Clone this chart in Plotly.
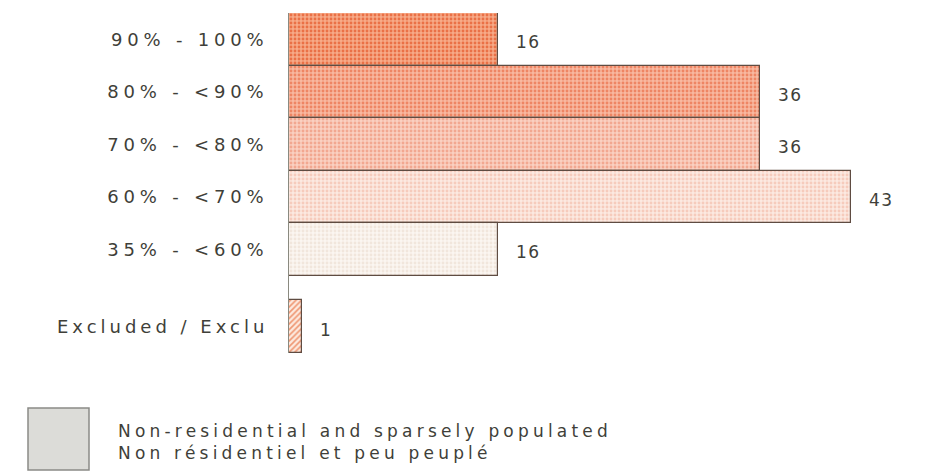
import plotly.graph_objects as go

# Share of households by coverage class
categories = ["90% - 100%", "80% - <90%", "70% - <80%", "60% - <70%", "35% - <60%", "Excluded / Exclu"]
counts = [16, 36, 36, 43, 16, 1]

legend_lines = ["Non-residential and sparsely populated", "Non résidentiel et peu peuplé"]

# fill colours per class (background, dot/hatch colour, pattern shape)
base_colors = ["#f7aa88", "#f8b8a0", "#fad0c1", "#fce9e1", "#fbf6f1", "#fdeadf"]
dot_colors = ["#ea7046", "#ee8563", "#f2a790", "#f6cbbc", "#f1e6dc", "#ef9672"]
shapes = [".", ".", ".", ".", ".", "/"]

W, H = 928, 474
L, R, T, B = 289, 0, 13, 121
TEXT = "#3f3f39"
FONT = "DejaVu Sans"

# main classes stacked edge to edge, the excluded class set a little apart
n_main = len(categories) - 1
y_pos = list(range(n_main)) + [n_main + 0.47]


def spaced(s, ls):
    return f'<span style="letter-spacing:{ls}px">{s}</span>'


fig = go.Figure()
# one trace per class so each bar gets its own pattern colours
for cat, v, y, bg, fg, shp in zip(categories, counts, y_pos, base_colors, dot_colors, shapes):
    fig.add_trace(go.Bar(
        x=[v],
        y=[y],
        name=cat,
        orientation="h",
        width=1.0,
        marker=dict(
            color=bg,
            line=dict(color="#5f4c42", width=1.2),
            pattern=dict(shape=shp, fillmode="overlay", fgcolor=fg,
                         fgopacity=1, size=4, solidity=0.4),
        ),
        hoverinfo="skip",
        showlegend=False,
    ))

# value labels to the right of each bar
for v, y in zip(counts, y_pos):
    fig.add_annotation(
        x=v, y=y, xref="x", yref="y", text=spaced(str(v), 1.5),
        showarrow=False, xanchor="left", xshift=16, yshift=-3,
        font=dict(family=FONT, size=17, color=TEXT),
    )

x_max = (W - L - R) / 13.08
plot_h = H - T - B


def px_x(p):
    return (p - L) / (W - L - R)


def px_y(p):
    return (H - B - p) / plot_h


# legend swatch and its text
fig.add_shape(type="rect", xref="paper", yref="paper",
              x0=px_x(28), x1=px_x(89), y0=px_y(470), y1=px_y(408),
              fillcolor="#dcdcd8", line=dict(color="#8a8a86", width=1.5))
fig.add_annotation(
    xref="paper", yref="paper", x=px_x(116), y=px_y(442),
    text="<br>".join(spaced(s, 4.2) for s in legend_lines),
    showarrow=False, xanchor="left", yanchor="middle", align="left",
    font=dict(family=FONT, size=17, color=TEXT),
)

tick_text = [spaced(c, 4.8) for c in categories[:-1]] + [spaced(categories[-1], 4.0)]

fig.update_layout(
    width=W, height=H,
    margin=dict(l=L, r=R, t=T, b=B, pad=0),
    paper_bgcolor="white", plot_bgcolor="white",
    barmode="overlay", bargap=0,
    xaxis=dict(range=[0, x_max], visible=False, fixedrange=True),
    yaxis=dict(
        range=[n_main + 0.97, -0.5],
        tickvals=y_pos,
        ticktext=tick_text,
        tickfont=dict(family=FONT, size=18, color=TEXT),
        ticks="", ticklabelstandoff=16,
        showgrid=False, zeroline=False,
        showline=True, linecolor="#8a8a80", linewidth=1,
        fixedrange=True,
    ),
    showlegend=False,
)

fig.write_html("out.html")
